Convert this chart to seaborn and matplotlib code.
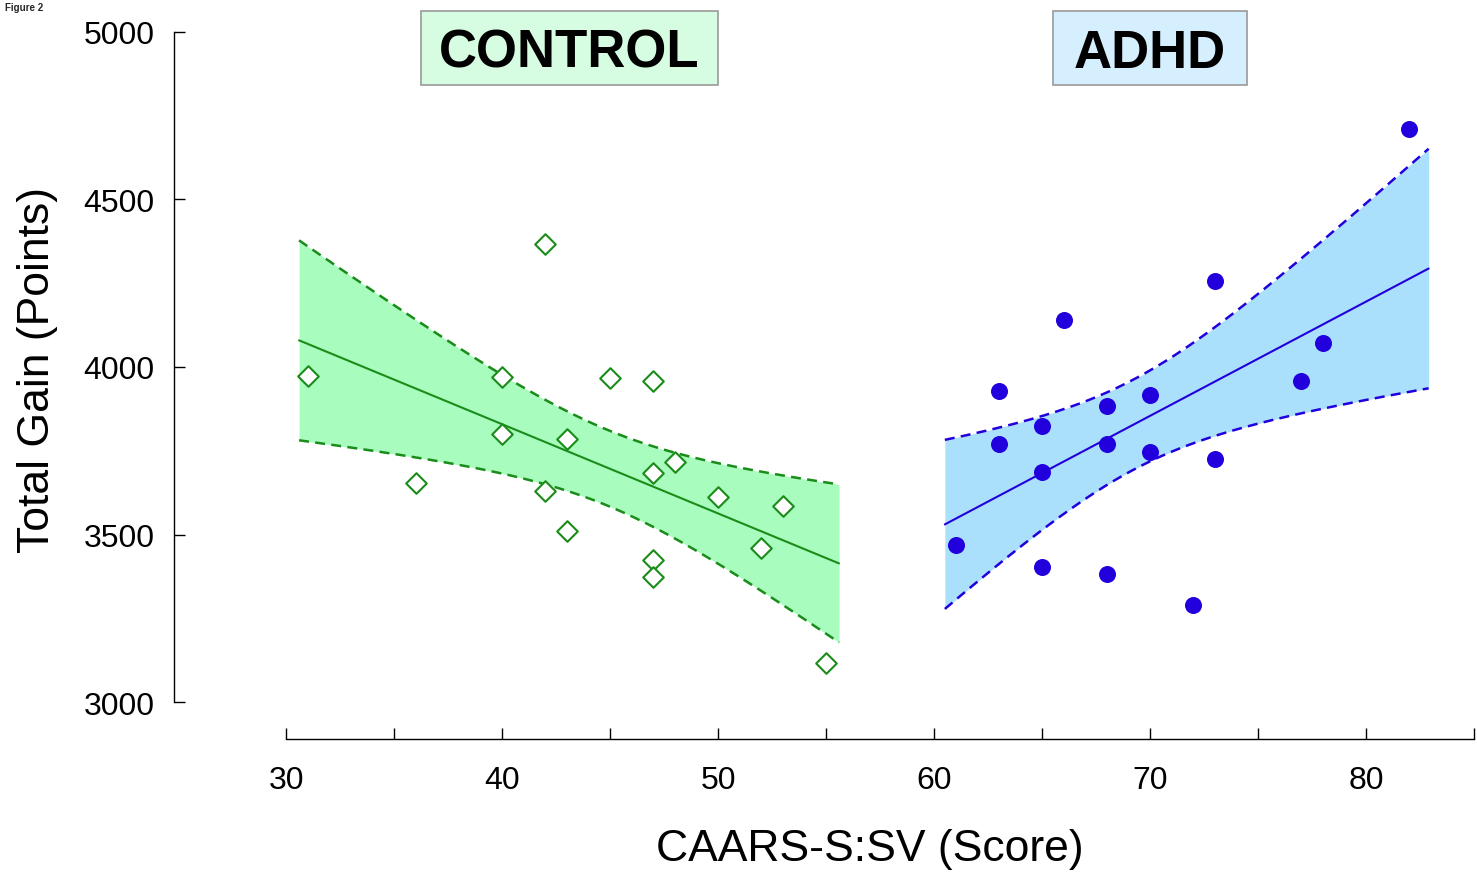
import numpy as np
import pandas as pd
import matplotlib
matplotlib.use("Agg")
import matplotlib.pyplot as plt
import matplotlib.patches as mpatches
import seaborn as sns

# ---------------- data ----------------
control_score = [31, 36, 40, 40, 42, 42, 43, 43, 45, 47, 47, 47, 47, 48, 50, 52, 53, 55]
control_gain = [3973, 3654, 3970, 3800, 4367, 3630, 3785, 3510, 3967, 3958, 3684, 3424, 3373, 3716, 3612, 3460, 3585, 3116]

adhd_score = [61, 63, 63, 65, 65, 65, 66, 68, 68, 68, 70, 70, 72, 73, 73, 77, 78, 82]
adhd_gain = [3469, 3928, 3770, 3824, 3687, 3403, 4140, 3884, 3770, 3382, 3916, 3746, 3290, 4257, 3725, 3958, 4072, 4710]

x_major = [30, 40, 50, 60, 70, 80]
x_minor = [35, 45, 55, 65, 75, 85]
y_ticks = [3000, 3500, 4000, 4500, 5000]

group_labels = ["CONTROL", "ADHD"]
z_crit = 1.96  # 95% confidence band multiplier

# ---------------- style ----------------
sns.set_theme(style="white")
plt.rcParams['font.family'] = ['Liberation Sans', 'DejaVu Sans']

GREEN_LINE = "#1a8c1a"
GREEN_FILL = "#a8fcbe"
GREEN_BOX = "#d6fde2"
BLUE_LINE = "#2200dd"
BLUE_FILL = "#aae0fc"
BLUE_BOX = "#d6efff"

W, H = 1477, 878
fig = plt.figure(figsize=(W / 100, H / 100), dpi=100)
ax = fig.add_axes([174 / W, (H - 740) / H, (1474 - 174) / W, 740 / H])
ax.set_xlim(24.81, 85.0)
ax.set_ylim(2890, 5098)


def band(x, y, lo, hi, line_color, fill_color):
    x = np.asarray(x, float)
    y = np.asarray(y, float)
    n = len(x)
    b1, b0 = np.polyfit(x, y, 1)
    xs = np.linspace(lo, hi, 200)
    yhat = b0 + b1 * xs
    resid = y - (b0 + b1 * x)
    s = np.sqrt(np.sum(resid ** 2) / (n - 2))
    sxx = np.sum((x - x.mean()) ** 2)
    se = s * np.sqrt(1 / n + (xs - x.mean()) ** 2 / sxx)
    up = yhat + z_crit * se
    dn = yhat - z_crit * se
    ax.fill_between(xs, dn, up, color=fill_color, lw=0, zorder=1)
    sns.lineplot(x=xs, y=yhat, ax=ax, color=line_color, lw=1.5, zorder=2, estimator=None, sort=False)
    for b in (up, dn):
        ax.plot(xs, b, color=line_color, lw=1.8, ls=(0, (4, 2.5)), zorder=2)


band(control_score, control_gain, 30.6, 55.6, GREEN_LINE, GREEN_FILL)
band(adhd_score, adhd_gain, 60.5, 82.9, BLUE_LINE, BLUE_FILL)

df_c = pd.DataFrame({"score": control_score, "gain": control_gain})
df_a = pd.DataFrame({"score": adhd_score, "gain": adhd_gain})
sns.scatterplot(data=df_c, x="score", y="gain", ax=ax, marker="D", s=110,
                facecolor="white", edgecolor=GREEN_LINE, linewidth=1.5, zorder=3)
sns.scatterplot(data=df_a, x="score", y="gain", ax=ax, marker="o", s=150,
                color=BLUE_LINE, edgecolor=BLUE_LINE, linewidth=0, zorder=3)

# axes styling
for side in ("top", "right"):
    ax.spines[side].set_visible(False)
ax.spines["left"].set_bounds(3000, 5000)
ax.spines["bottom"].set_bounds(30, 85)
for side in ("left", "bottom"):
    ax.spines[side].set_color("black")
    ax.spines[side].set_linewidth(1.0)

ax.set_xticks(x_major)
ax.set_xticks(x_minor, minor=True)
ax.set_yticks(y_ticks)
ax.set_xticklabels([str(v) for v in x_major])
ax.set_yticklabels([str(v) for v in y_ticks])
ax.tick_params(axis="both", which="both", direction="in", length=8, width=1.0,
               color="black", labelcolor="black", bottom=True, left=True)
ax.tick_params(axis="y", labelsize=23, pad=14)
ax.tick_params(axis="x", labelsize=23, pad=19)
ax.set_xlabel("CAARS-S:SV (Score)", fontsize=32, color="black")
ax.set_ylabel("Total Gain (Points)", fontsize=32, labelpad=18, color="black")
ax.xaxis.set_label_coords((870 - 174) / 1300, -(850 - 740) / 740, transform=ax.transAxes)
ax.xaxis.label.set_va("center")
ax.grid(False)
ax.set_facecolor("white")

# group label boxes (pixel-based placement)
boxes = [(421, 12, 718, 86, GREEN_BOX), (1053, 12, 1247, 86, BLUE_BOX)]
for (x0, y0, x1, y1, fc), lab in zip(boxes, group_labels):
    rect = mpatches.Rectangle((x0 / W, 1 - y1 / H), (x1 - x0) / W, (y1 - y0) / H,
                              transform=fig.transFigure, facecolor=fc,
                              edgecolor="#9a9a9a", linewidth=1.2, zorder=5)
    fig.add_artist(rect)
    fig.text((x0 + x1) / 2 / W, 1 - 68 / H, lab, ha="center", va="baseline",
             fontsize=38, fontweight="bold", color="black", zorder=6)

fig.text(5 / W, 1 - 8 / H, "Figure 2", fontsize=7, fontweight="bold", ha="left", va="center")

fig.savefig("out.png", dpi=100, facecolor="white")
